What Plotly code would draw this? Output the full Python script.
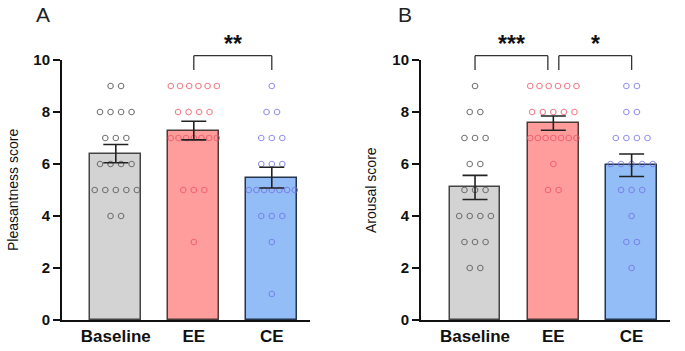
import numpy as np
import plotly.graph_objects as go

categories = ["Baseline", "EE", "CE"]

# Panel A: Pleasantness score (individual subject ratings)
A_baseline = [9, 9, 8, 8, 8, 8, 7, 7, 7, 6, 6, 6, 6, 5, 5, 5, 5, 5, 4, 4]
A_ee = [9, 9, 9, 9, 9, 9, 8, 8, 8, 8, 7, 7, 7, 7, 7, 7, 7, 5, 5, 5, 3]
A_ce = [9, 8, 8, 7, 7, 7, 6, 6, 6, 5, 5, 5, 5, 5, 5, 5, 4, 4, 4, 3, 1]

# Panel B: Arousal score
B_baseline = [9, 8, 8, 7, 7, 7, 6, 6, 5, 5, 5, 4, 4, 4, 4, 3, 3, 3, 2, 2]
B_ee = [9, 9, 9, 9, 9, 9, 8, 8, 8, 8, 8, 7, 7, 7, 7, 7, 7, 7, 6, 5, 5]
B_ce = [9, 9, 8, 8, 7, 7, 7, 7, 6, 6, 6, 6, 6, 5, 5, 5, 4, 3, 3, 2]

y_ticks = [0, 2, 4, 6, 8, 10]
panel_labels = ["A", "B"]
y_titles = ["Pleasantness score", "Arousal score"]
sig_A = [("EE", "CE", "**")]
sig_B = [("Baseline", "EE", "***"), ("EE", "CE", "*")]

fill_colors = ["#d3d3d3", "#ff9c9c", "#93bdf6"]
edge_colors = ["#444444", "#4a3a3a", "#25344d"]
dot_colors = ["rgba(105,105,105,0.9)", "rgba(235,85,100,0.75)", "rgba(115,115,230,0.75)"]

W, H = 685, 351
FS = "Arial, Liberation Sans, sans-serif"


def px(X):
    return X / W


def py(Y):
    return (H - Y) / H


xr = [-0.69, 2.49]
ydom = [py(320), py(60)]
xdoms = [[px(62), px(310)], [px(421), px(670)]]
letter_pos = [(43, 14), (405, 14)]
title_x = [13, 371]


def swarm(vals, xc):
    vals = np.asarray(vals)
    xs, ys = [], []
    for v in sorted(set(vals.tolist()), reverse=True):
        n = int((vals == v).sum())
        s = 0.135 if n <= 1 else min(0.135, 0.59 / (n - 1))
        for i in range(n):
            xs.append(xc + (i - (n - 1) / 2) * s)
            ys.append(v)
    return xs, ys


fig = go.Figure()
panels = [[A_baseline, A_ee, A_ce], [B_baseline, B_ee, B_ce]]
sigs = [sig_A, sig_B]

for p, groups in enumerate(panels):
    xa = "x" if p == 0 else "x2"
    ya = "y" if p == 0 else "y2"
    for i, g in enumerate(groups):
        arr = np.asarray(g, dtype=float)
        mean = arr.mean()
        sem = arr.std(ddof=1) / np.sqrt(len(arr))
        fig.add_trace(go.Bar(
            x=[i], y=[mean], width=0.65,
            marker=dict(color=fill_colors[i], line=dict(color=edge_colors[i], width=1.5)),
            xaxis=xa, yaxis=ya, showlegend=False, hoverinfo="skip",
        ))
        xs, ys = swarm(g, i)
        fig.add_trace(go.Scatter(
            x=xs, y=ys, mode="markers",
            marker=dict(symbol="circle-open", size=5.5, color=dot_colors[i], line=dict(width=1.1)),
            xaxis=xa, yaxis=ya, showlegend=False, cliponaxis=False,
        ))
        fig.add_trace(go.Scatter(
            x=[i], y=[mean], mode="markers",
            marker=dict(size=0.1, color="rgba(0,0,0,0)"),
            error_y=dict(type="data", array=[sem], visible=True, color="#222222", thickness=1.6, width=12.5),
            xaxis=xa, yaxis=ya, showlegend=False,
        ))

    # significance brackets
    for (c1, c2, label) in sigs[p]:
        i1, i2 = categories.index(c1), categories.index(c2)
        x1, x2 = float(i1), float(i2)
        if p == 1:
            if c1 == "EE":
                x1 += 0.07
            if c2 == "EE":
                x2 -= 0.07
        yt, yb = py(55.7), py(70)
        for (a0, a1, b0, b1) in [(x1, x1, yb, yt), (x1, x2, yt, yt), (x2, x2, yb, yt)]:
            fig.add_shape(type="line", xref=xa, yref="paper", x0=a0, x1=a1, y0=b0, y1=b1,
                          line=dict(color="#333333", width=1.3))
        fig.add_annotation(x=(x1 + x2) / 2, y=py(59), xref=xa, yref="paper",
                           text=label, showarrow=False, yanchor="bottom",
                           font=dict(family=FS, size=23, color="#111111", weight="bold"))

    fig.add_annotation(x=px(letter_pos[p][0]), y=py(letter_pos[p][1]), xref="paper", yref="paper",
                       text=panel_labels[p], showarrow=False, xanchor="center", yanchor="middle",
                       font=dict(family=FS, size=21, color="#222222"))
    fig.add_annotation(x=px(title_x[p]), y=(ydom[0] + ydom[1]) / 2, xref="paper", yref="paper",
                       text=y_titles[p], showarrow=False, textangle=-90, xanchor="center", yanchor="middle",
                       font=dict(family=FS, size=14, color="#111111"))

axis_common = dict(showgrid=False, zeroline=False, showline=True, linecolor="#111111", linewidth=2,
                   automargin=False)
xfont = dict(family=FS, size=17, color="#111111", weight="bold")
yfont = dict(family=FS, size=15, color="#111111", weight="bold")

fig.update_layout(
    width=W, height=H, margin=dict(l=0, r=0, t=0, b=0),
    plot_bgcolor="white", paper_bgcolor="white", bargap=0,
    xaxis=dict(domain=xdoms[0], range=xr, tickvals=[0, 1, 2], ticktext=categories, ticks="",
               tickfont=xfont, anchor="y", **axis_common),
    yaxis=dict(domain=ydom, range=[0, 10], tickvals=y_ticks, ticks="outside", ticklen=7, tickwidth=2,
               tickcolor="#111111", tickfont=yfont, anchor="x", **axis_common),
    xaxis2=dict(domain=xdoms[1], range=xr, tickvals=[0, 1, 2], ticktext=categories, ticks="",
                tickfont=xfont, anchor="y2", **axis_common),
    yaxis2=dict(domain=ydom, range=[0, 10], tickvals=y_ticks, ticks="outside", ticklen=7, tickwidth=2,
                tickcolor="#111111", tickfont=yfont, anchor="x2", **axis_common),
)

# remove the browser's default 8px page margin so the figure fills the window exactly
fig.write_html("out.html", config={"displayModeBar": False},
               post_script="document.body.style.margin='0';document.body.style.overflow='hidden';")
